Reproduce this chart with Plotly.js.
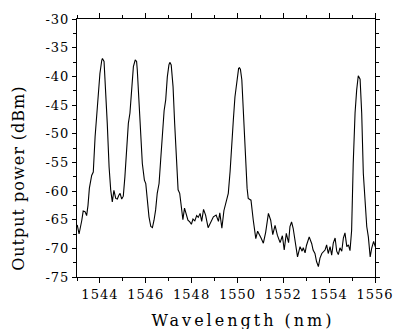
<!DOCTYPE html>
<html>
<head>
<meta charset="utf-8">
<script src="https://cdn.plot.ly/plotly-3.0.1.min.js"></script>
<style>
html, body { margin: 0; padding: 0; background: #fff; }
#chart { width: 393px; height: 329px; }
.xtick text, .ytick text { letter-spacing: 1px; }
.annotation-text.xt { letter-spacing: 3px; }
.annotation-text.yt { letter-spacing: 1px; }
</style>
</head>
<body>
<div id="chart"></div>
<script>
const wavelength = [
1543.01,1543.09,1543.21,1543.27,1543.35,1543.42,1543.48,1543.54,1543.64,1543.71,
1543.79,1543.86,1543.93,1544.00,1544.08,1544.11,1544.18,1544.25,1544.32,1544.40,
1544.47,1544.54,1544.61,1544.69,1544.76,1544.82,1544.88,1544.95,1545.02,1545.09,
1545.17,1545.24,1545.31,1545.39,1545.46,1545.54,1545.60,1545.63,1545.71,1545.78,
1545.85,1545.94,1546.00,1546.07,1546.14,1546.22,1546.29,1546.36,1546.43,1546.50,
1546.58,1546.65,1546.72,1546.80,1546.87,1546.94,1547.01,1547.05,1547.11,1547.19,
1547.26,1547.33,1547.41,1547.48,1547.55,1547.62,1547.69,1547.77,1547.84,1547.92,
1547.99,1548.06,1548.14,1548.22,1548.29,1548.37,1548.44,1548.52,1548.61,1548.72,
1548.82,1548.95,1549.07,1549.17,1549.23,1549.32,1549.41,1549.53,1549.60,1549.68,
1549.75,1549.82,1549.89,1549.97,1550.05,1550.09,1550.13,1550.19,1550.26,1550.35,
1550.42,1550.47,1550.59,1550.69,1550.80,1550.88,1550.94,1551.03,1551.13,1551.23,
1551.35,1551.45,1551.54,1551.64,1551.74,1551.86,1551.96,1552.04,1552.13,1552.23,
1552.29,1552.36,1552.43,1552.53,1552.62,1552.73,1552.82,1552.87,1552.95,1553.01,
1553.13,1553.24,1553.30,1553.38,1553.45,1553.53,1553.60,1553.68,1553.75,1553.82,
1553.89,1553.96,1554.04,1554.11,1554.18,1554.26,1554.33,1554.40,1554.47,1554.55,
1554.62,1554.69,1554.77,1554.84,1554.91,1554.98,1555.05,1555.13,1555.20,1555.27,
1555.35,1555.42,1555.49,1555.57,1555.64,1555.71,1555.79,1555.86,1555.94,1556.01
];
const power = [
-65.9,-67.5,-65.1,-63.5,-63.6,-64.3,-62.5,-59.5,-57.3,-56.7,
-50.5,-46.6,-44.1,-39.5,-37.2,-36.9,-37.4,-41.8,-48.2,-55.8,
-59.8,-61.9,-59.9,-61.3,-61.4,-60.8,-60.4,-61.4,-60.9,-57.5,
-52.3,-48.2,-46.4,-41.8,-38.3,-37.15,-37.4,-38.9,-44.1,-49.9,
-55.2,-58.1,-58.7,-61.6,-64.5,-66.2,-66.4,-65.1,-63.3,-60.4,
-58.7,-54.6,-49.9,-46.0,-44.1,-40.1,-38.0,-37.56,-38.0,-41.8,
-48.2,-54.6,-59.8,-60.4,-62.4,-65.0,-63.0,-64.3,-65.1,-65.4,
-65.8,-64.9,-65.2,-64.3,-64.6,-63.9,-65.3,-63.2,-64.2,-66.4,
-65.6,-64.5,-64.2,-65.3,-63.8,-66.5,-63.4,-61.6,-60.4,-56.5,
-51.1,-47.6,-43.6,-40.9,-38.6,-38.5,-38.8,-40.6,-46.4,-55.0,
-59.5,-61.3,-61.6,-65.1,-68.3,-67.0,-67.6,-68.2,-69.1,-67.2,
-63.9,-65.1,-67.6,-66.0,-67.7,-69.0,-67.8,-70.3,-67.4,-69.0,
-66.2,-65.4,-66.5,-69.4,-71.5,-69.7,-70.5,-69.9,-70.8,-69.5,
-68.0,-69.2,-70.3,-70.9,-72.3,-73.2,-71.7,-70.9,-70.6,-70.3,
-69.4,-70.9,-69.7,-71.2,-69.1,-68.2,-70.5,-71.1,-69.9,-70.5,
-68.2,-67.3,-69.7,-69.4,-70.4,-66.9,-55.2,-46.4,-42.4,-39.9,
-40.5,-46.4,-56.9,-62.7,-66.2,-68.0,-71.5,-69.9,-68.8,-69.7
];

const xTickVals = [1544, 1546, 1548, 1550, 1552, 1554, 1556];
const xTickText = ['1544', '1546', '1548', '1550', '1552', '1554', '1556'];
const yTickVals = [-75, -70, -65, -60, -55, -50, -45, -40, -35, -30];
const yTickText = ['-75', '-70', '-65', '-60', '-55', '-50', '-45', '-40', '-35', '-30'];

const xTitle = 'Wavelength (nm)';
const yTitle = 'Output power (dBm)';

const fam = 'DejaVu Serif';

const trace = {
  x: wavelength,
  y: power,
  type: 'scatter',
  mode: 'lines',
  line: { color: '#000', width: 1.1 },
  hoverinfo: 'skip'
};

const axisCommon = {
  showgrid: false,
  zeroline: false,
  showline: true,
  linecolor: '#000',
  linewidth: 1,
  mirror: 'ticks',
  ticks: 'outside',
  tickcolor: '#000',
  tickwidth: 1,
  ticklen: 5,
  ticklabeloverflow: 'allow',
  tickfont: { family: fam, size: 13, color: '#000' }
};

const layout = {
  width: 393,
  height: 329,
  margin: { l: 77, r: 18, t: 19, b: 52 },
  paper_bgcolor: '#fff',
  plot_bgcolor: '#fff',
  showlegend: false,
  font: { family: fam, color: '#000' },
  xaxis: Object.assign({}, axisCommon, {
    range: [1543, 1556],
    tickmode: 'array',
    tickvals: xTickVals,
    ticktext: xTickText,
    minor: { dtick: 1, tick0: 1543, ticks: 'outside', ticklen: 3, tickcolor: '#000', tickwidth: 1 }
  }),
  yaxis: Object.assign({}, axisCommon, {
    range: [-75, -30],
    tickmode: 'array',
    tickvals: yTickVals,
    ticktext: yTickText,
    ticklen: 4,
    minor: { dtick: 2.5, tick0: -75, ticks: 'outside', ticklen: 3, tickcolor: '#000', tickwidth: 1 }
  }),
  annotations: [
    { text: xTitle, xref: 'paper', yref: 'paper', x: 0.557, y: -0.167,
      xanchor: 'center', yanchor: 'middle', showarrow: false,
      font: { family: fam, size: 16, color: '#000' } },
    { text: yTitle, xref: 'paper', yref: 'paper', x: -0.195, y: 0.384,
      xanchor: 'center', yanchor: 'middle', showarrow: false, textangle: -90,
      font: { family: fam, size: 16, color: '#000' } }
  ]
};

Plotly.newPlot('chart', [trace], layout, { displayModeBar: false, staticPlot: true }).then(function () {
  const ann = document.querySelectorAll('.annotation-text');
  if (ann[0]) ann[0].classList.add('xt');
  if (ann[1]) ann[1].classList.add('yt');
});
</script>
</body>
</html>
